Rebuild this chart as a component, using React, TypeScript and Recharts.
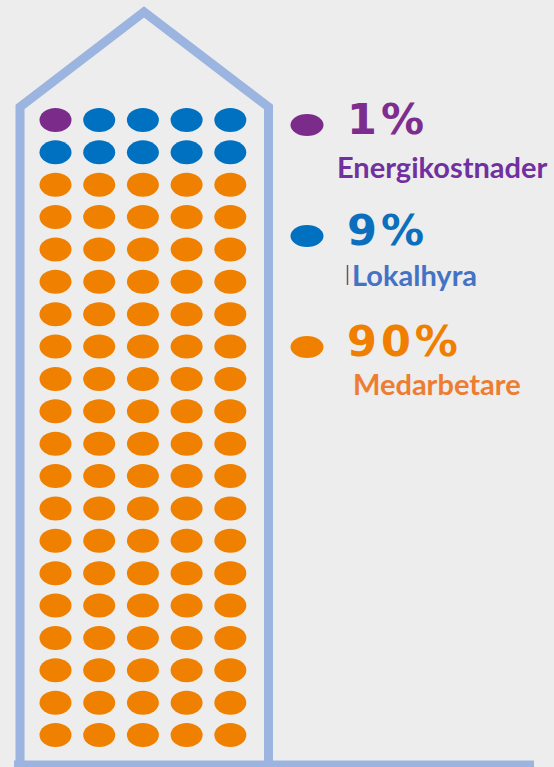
import React from 'react';
import { ScatterChart, Scatter, XAxis, YAxis, Legend } from 'recharts';

// ---- data ----
const categories = ['Energikostnader', 'Lokalhyra', 'Medarbetare'];
const shares = [1, 9, 90];
const percentLabels = ['1%', '9%', '90%'];
const dotColors = ['#7B2C8B', '#0070C0', '#F08000'];
const percentColors = ['#7C2D8D', '#0B6FBE', '#F07F00'];
const nameColors = ['#7030A0', '#4472C4', '#ED7D31'];
const COLUMNS = 5;

// ---- layout (grid units: columns / rows) ----
const X_DOMAIN: [number, number] = [-0.27, 12.407];
const Y_DOMAIN: [number, number] = [-2.707, 20.988];
const houseOutline = [
  { col: 0.188, row: 20.9 },
  { col: 0.188, row: 0.6 },
  { col: 3.025, row: -2.336 },
  { col: 5.874, row: 0.6 },
  { col: 5.874, row: 20.9 },
];
const groundLine = [
  { col: 0.05, row: 20.93 },
  { col: 11.95, row: 20.93 },
];
const OUTLINE = '#9BB4E0';
const W = 554;
const H = 767;

type Cell = { col: number; row: number };
function buildCells(): Cell[][] {
  const out: Cell[][] = categories.map(() => []);
  let k = 0;
  shares.forEach((n, ci) => {
    for (let i = 0; i < n; i++) {
      out[ci].push({ col: (k % COLUMNS) + 1, row: Math.floor(k / COLUMNS) + 1 });
      k++;
    }
  });
  return out;
}
const cells = buildCells();

const Dot = (props: any) => {
  const { cx, cy, fill } = props;
  if (cx == null || cy == null) return <g />;
  return <ellipse cx={cx} cy={cy} rx={16} ry={12} fill={fill} />;
};
const NoShape = () => <g />;

const nameX = [57, 72, 73];
const nameBaseline = [88, 85, 83];
const ITEM_STEP = 111;

const LegendContent = () => (
  <svg width={274} height={330} style={{ display: 'block', overflow: 'visible' }}>
    {categories.map((name, i) => (
      <g key={name} transform={`translate(0, ${i * ITEM_STEP})`}>
        <ellipse cx={27} cy={35} rx={16.5} ry={11} fill={dotColors[i]} />
        <text
          x={67}
          y={44}
          fill={percentColors[i]}
          fontFamily="'DejaVu Sans', sans-serif"
          fontWeight={700}
          fontSize={43}
          letterSpacing={4}
        >
          {percentLabels[i]}
        </text>
        <text
          x={nameX[i]}
          y={nameBaseline[i]}
          fill={nameColors[i]}
          fontFamily="Lato, sans-serif"
          fontWeight={700}
          fontSize={29}
        >
          {name}
        </text>
      </g>
    ))}
    <line x1={67.5} y1={175} x2={67.5} y2={195} stroke="#6B5A4A" strokeWidth={1.5} />
  </svg>
);

export default function App() {
  return (
    <div style={{ width: W, height: H, background: '#EDEDED', position: 'relative' }}>
      <style>{`body{margin:0;background:#EDEDED;}`}</style>
      <ScatterChart width={W} height={H} margin={{ top: 0, right: 0, bottom: 0, left: 0 }}>
        <XAxis type="number" dataKey="col" domain={X_DOMAIN} allowDataOverflow hide />
        <YAxis type="number" dataKey="row" domain={Y_DOMAIN} allowDataOverflow reversed hide />
        <Scatter
          name="house"
          data={houseOutline}
          line={{ stroke: OUTLINE, strokeWidth: 9, strokeLinejoin: 'miter' } as any}
          shape={NoShape}
          legendType="none"
          isAnimationActive={false}
        />
        <Scatter
          name="ground"
          data={groundLine}
          line={{ stroke: OUTLINE, strokeWidth: 9 } as any}
          shape={NoShape}
          legendType="none"
          isAnimationActive={false}
        />
        {categories.map((name, i) => (
          <Scatter
            key={name}
            name={name}
            data={cells[i]}
            fill={dotColors[i]}
            shape={Dot}
            isAnimationActive={false}
          />
        ))}
        <Legend
          layout="vertical"
          align="center"
          verticalAlign="middle"
          wrapperStyle={{ position: 'absolute', left: 280, top: 90, width: 274, height: 330 }}
          content={LegendContent}
        />
      </ScatterChart>
    </div>
  );
}
